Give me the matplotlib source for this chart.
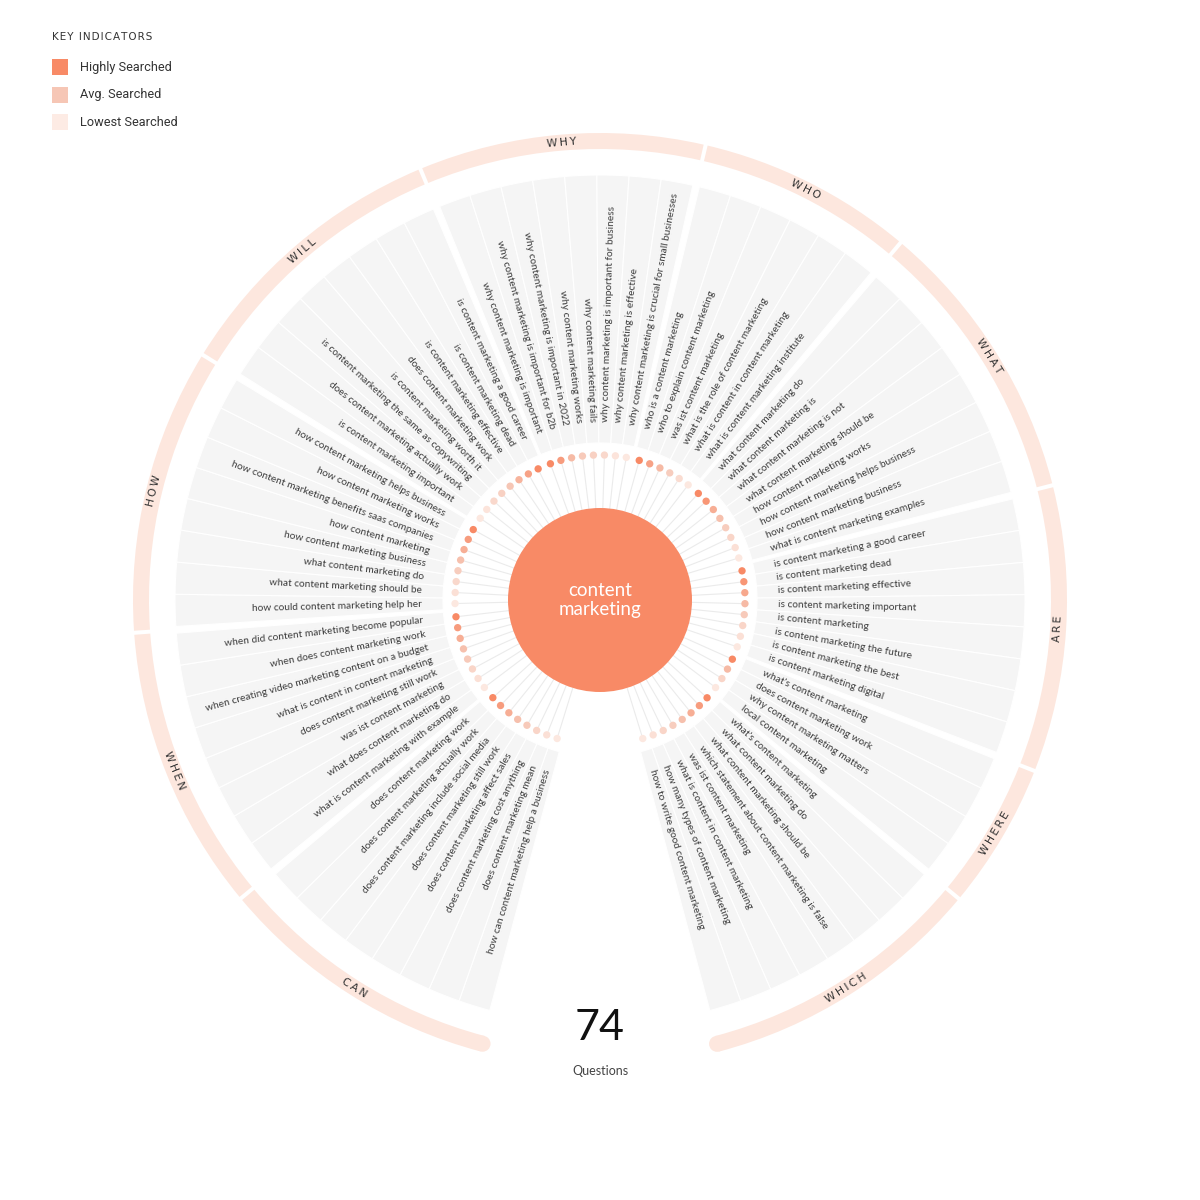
import numpy as np
import matplotlib.pyplot as plt
from matplotlib.patches import Wedge, Circle, Rectangle
from matplotlib.colors import LinearSegmentedColormap

plt.rcParams['font.family'] = ['Lato', 'DejaVu Sans']

##########################################
## Data                                 ##
##########################################
keyword = 'content\nmarketing'
total_questions = 74

# clockwise, starting at the bottom-left end of the wheel
categories  = ['CAN', 'WHEN', 'HOW', 'WILL', 'WHY', 'WHO', 'WHAT', 'ARE', 'WHERE', 'WHICH']
group_sizes = [8, 8, 8, 8, 8, 6, 8, 8, 4, 8]

questions = [
    # can
    'how can content marketing help a business',
    'does content marketing mean',
    'does content marketing cost anything',
    'does content marketing affect sales',
    'does content marketing still work',
    'does content marketing include social media',
    'does content marketing actually work',
    'does content marketing work',
    # when
    'what is content marketing with example',
    'what does content marketing do',
    'was ist content marketing',
    'does content marketing still work',
    'what is content in content marketing',
    'when creating video marketing content on a budget',
    'when does content marketing work',
    'when did content marketing become popular',
    # how
    'how could content marketing help her',
    'what content marketing should be',
    'what content marketing do',
    'how content marketing business',
    'how content marketing',
    'how content marketing benefits saas companies',
    'how content marketing works',
    'how content marketing helps business',
    # will
    'is content marketing important',
    'does content marketing actually work',
    'is content marketing the same as copywriting',
    'is content marketing worth it',
    'does content marketing work',
    'is content marketing effective',
    'is content marketing dead',
    'is content marketing a good career',
    # why
    'why content marketing is important',
    'why content marketing is important for b2b',
    'why content marketing is important in 2022',
    'why content marketing works',
    'why content marketing fails',
    'why content marketing is important for business',
    'why content marketing is effective',
    'why content marketing is crucial for small businesses',
    # who
    'who is a content marketing',
    'who to explain content marketing',
    'was ist content marketing',
    'what is the role of content marketing',
    'what is content in content marketing',
    'what is content marketing institute',
    # what
    'what content marketing do',
    'what content marketing is',
    'what content marketing is not',
    'what content marketing should be',
    'how content marketing works',
    'how content marketing helps business',
    'how content marketing business',
    'what is content marketing examples',
    # are
    'is content marketing a good career',
    'is content marketing dead',
    'is content marketing effective',
    'is content marketing important',
    'is content marketing',
    'is content marketing the future',
    'is content marketing the best',
    'is content marketing digital',
    # where
    "what's content marketing",
    'does content marketing work',
    'why content marketing matters',
    'local content marketing',
    # which
    "what's content marketing",
    'what content marketing do',
    'what content marketing should be',
    'which statement about content marketing is false',
    'was ist content marketing',
    'what is content in content marketing',
    'how many types of content marketing',
    'how to write good content marketing',
]

# relative search volume read from the dot shades (0 = lowest, 1 = highest)
volume = [
    0.05, 0.15, 0.30, 0.45, 0.55, 0.70, 0.85, 1.00,
    0.05, 0.15, 0.30, 0.45, 0.55, 0.70, 0.85, 1.00,
    0.05, 0.15, 0.25, 0.40, 0.55, 0.70, 0.85, 1.00,
    0.05, 0.10, 0.25, 0.35, 0.50, 0.65, 0.80, 1.00,
    1.00, 0.85, 0.60, 0.45, 0.35, 0.25, 0.10, 0.05,
    1.00, 0.80, 0.60, 0.40, 0.20, 0.05,
    1.00, 0.90, 0.70, 0.55, 0.40, 0.30, 0.15, 0.05,
    1.00, 0.90, 0.75, 0.60, 0.45, 0.30, 0.15, 0.05,
    1.00, 0.60, 0.30, 0.05,
    1.00, 0.85, 0.70, 0.55, 0.40, 0.30, 0.15, 0.05,
]

legend_labels = ['Highly Searched', 'Avg. Searched', 'Lowest Searched']

##########################################
## Style parameters                     ##
##########################################
c_high   = '#f88a66'
c_avg    = '#f6c6b5'
c_low    = '#fdebe4'
c_ring   = '#fde7de'
c_bar    = '#f5f5f5'
c_text   = '#3c3c3c'
cmap = LinearSegmentedColormap.from_list('vol', [c_low, c_avg, c_high])

cx, cy      = 600, 600
start_angle = 252.8    # centre of the first spoke (degrees, ccw from +x)
slot        = 4.35     # angle of one spoke
group_gap   = 0.9      # extra angle between groups
r_center    = 92
r_dot       = 145
r_bar_in    = 157
r_bar_out   = 425
r_text      = 178
r_ring      = 459
ring_w      = 16

# spoke angles
angles = []
a = start_angle
for gi, n in enumerate(group_sizes):
    for k in range(n):
        angles.append(a)
        a -= slot
    a -= group_gap
angles = np.array(angles)

fig = plt.figure(figsize=(12, 12), dpi=100)
fig.patch.set_facecolor('white')
ax = fig.add_axes([0, 0, 1, 1])
ax.set_xlim(0, 1200)
ax.set_ylim(0, 1200)
ax.set_aspect('equal')
ax.axis('off')

##########################################
## Grey spokes                          ##
##########################################
for th in angles:
    ax.add_patch(Wedge((cx, cy), r_bar_out, th - slot / 2, th + slot / 2,
                       width=r_bar_out - r_bar_in, fc=c_bar, ec='white', lw=0.8))

##########################################
## Outer ring with categories           ##
##########################################
idx = 0
for gi, n in enumerate(group_sizes):
    th_first = angles[idx]
    th_last = angles[idx + n - 1]
    t1 = th_last - slot / 2 - 0.2
    t2 = th_first + slot / 2 + 0.2
    ax.add_patch(Wedge((cx, cy), r_ring + ring_w / 2, t1, t2, width=ring_w,
                       fc=c_ring, ec='none'))
    mid = (th_first + th_last) / 2
    rad = np.deg2rad(mid)
    rot = mid - 90 if np.sin(rad) >= 0 else mid + 90
    ax.text(cx + r_ring * np.cos(rad), cy + r_ring * np.sin(rad),
            '\u2009'.join(categories[gi]), rotation=rot, rotation_mode='anchor',
            ha='center', va='center', fontsize=7.8, color='#333333',
            family=['DejaVu Sans'])
    idx += n

# round caps at the two ends of the ring
for th in [angles[0] + slot / 2 + 0.2, angles[-1] - slot / 2 - 0.2]:
    rad = np.deg2rad(th)
    ax.add_patch(Circle((cx + r_ring * np.cos(rad), cy + r_ring * np.sin(rad)),
                        ring_w / 2, fc=c_ring, ec='none'))

##########################################
## Spoke lines, dots and questions      ##
##########################################
rads = np.deg2rad(angles)
for rad in rads:
    ax.plot([cx + r_center * np.cos(rad), cx + (r_dot - 4) * np.cos(rad)],
            [cy + r_center * np.sin(rad), cy + (r_dot - 4) * np.sin(rad)],
            color='#ebebeb', lw=0.8, zorder=1)

ax.scatter(cx + r_dot * np.cos(rads), cy + r_dot * np.sin(rads),
           s=28, c=cmap(np.array(volume)), edgecolors='none', zorder=3)

for th, q in zip(angles, questions):
    rad = np.deg2rad(th)
    x = cx + r_text * np.cos(rad)
    y = cy + r_text * np.sin(rad)
    if np.cos(rad) >= 0:
        ax.text(x, y, q, rotation=th, rotation_mode='anchor', ha='left',
                va='center', fontsize=7.3, color=c_text)
    else:
        ax.text(x, y, q, rotation=th - 180, rotation_mode='anchor', ha='right',
                va='center', fontsize=7.3, color=c_text)

##########################################
## Centre                               ##
##########################################
ax.add_patch(Circle((cx, cy), r_center, fc=c_high, ec='none', zorder=4))
ax.text(cx, cy, keyword, ha='center', va='center', fontsize=13.5, color='white',
        linespacing=1.2, zorder=5)

ax.text(600, 1200 - 1028, str(total_questions), ha='center', va='center',
        fontsize=31, color='#111111')
ax.text(600, 1200 - 1071, 'Questions', ha='center', va='center',
        fontsize=9, color='#444444')

##########################################
## Legend                               ##
##########################################
ax.text(52, 1200 - 37, '\u200a'.join('KEY') + ' \u2009' + '\u200a'.join('INDICATORS'),
        ha='left', va='center', fontsize=7.5, color='#333333', family=['DejaVu Sans'])
for i, (lab, col) in enumerate(zip(legend_labels, [c_high, c_avg, c_low])):
    yc = 1200 - (67 + i * 27.5)
    ax.add_patch(Rectangle((52, yc - 8), 16, 16, fc=col, ec='none'))
    ax.text(80, yc, lab, ha='left', va='center', fontsize=9.2, color='#333333',
            family=['Roboto', 'DejaVu Sans'])

plt.savefig('out.png', dpi=100)
